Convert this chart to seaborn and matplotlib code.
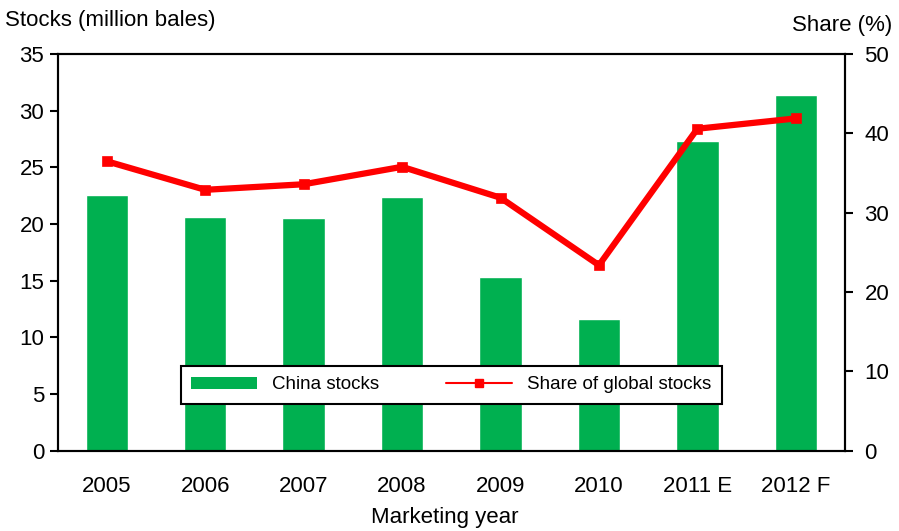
import numpy as np
import pandas as pd
import matplotlib
matplotlib.use('Agg')
import matplotlib.pyplot as plt
import seaborn as sns
from matplotlib.patches import Patch
from matplotlib.lines import Line2D

# 数据
years = ['2005', '2006', '2007', '2008', '2009', '2010', '2011 E', '2012 F']
china_stocks = [22.6, 20.6, 20.5, 22.4, 15.3, 11.6, 27.3, 31.4]
share_global = [36.5, 32.9, 33.6, 35.8, 31.9, 23.4, 40.6, 41.9]

sns.set_theme(style='white')
plt.rcParams['font.family'] = ['Liberation Sans', 'DejaVu Sans']
plt.rcParams['text.color'] = 'black'

df = pd.DataFrame({'year': years, 'stocks': china_stocks, 'share': share_global})

green = '#00B050'
red = '#FF0000'

fig = plt.figure(figsize=(8.99, 5.31), dpi=100)
ax = fig.add_axes([0.064, 0.151, 0.876, 0.747])

sns.barplot(data=df, x='year', y='stocks', order=years, color=green,
            width=0.43, saturation=1, ax=ax)
ax.set_ylim(0, 35)
ax.set_yticks(np.arange(0, 36, 5))
ax.set_xlim(-0.5, len(years) - 0.5)

ax2 = ax.twinx()
sns.pointplot(data=df, x='year', y='share', order=years, color=red,
              markers='s', markersize=5, linewidth=4.5, ax=ax2)
ax2.set_ylim(0, 50)
ax2.set_yticks(np.arange(0, 51, 10))
ax2.set_xlim(-0.5, len(years) - 0.5)

for a in (ax, ax2):
    for s in a.spines.values():
        s.set_color('black')
        s.set_linewidth(1.5)
    a.set_xlabel('')
    a.set_ylabel('')
    a.tick_params(axis='y', direction='out', length=6, width=1.5,
                  labelsize=16, colors='black')
ax.tick_params(axis='y', left=True, labelleft=True)
ax2.tick_params(axis='y', right=True, labelright=True, pad=8)
ax.tick_params(axis='x', bottom=False, labelsize=16, pad=12, colors='black')
ax2.tick_params(axis='x', bottom=False)

fig.text(0.006, 0.962, 'Stocks (million bales)', fontsize=16, ha='left', va='center', color='black')
fig.text(0.993, 0.952, 'Share (%)', fontsize=16, ha='right', va='center', color='black')
fig.text(0.495, 0.025, 'Marketing year', fontsize=16, ha='center', va='center', color='black')

handles = [Patch(facecolor=green, edgecolor='none', label='China stocks'),
           Line2D([0], [0], color=red, lw=1.5, marker='s', markersize=6,
                  label='Share of global stocks')]
leg = ax2.legend(handles=handles, loc='center', bbox_to_anchor=(0.5, 0.166),
                 ncol=2, frameon=True, fancybox=False, fontsize=13.5,
                 handlelength=3.5, handleheight=0.6, columnspacing=3.6,
                 borderpad=0.55, borderaxespad=0, edgecolor='black',
                 framealpha=1, facecolor='white')
leg.get_frame().set_linewidth(1.5)

fig.savefig('out.png', dpi=100)
